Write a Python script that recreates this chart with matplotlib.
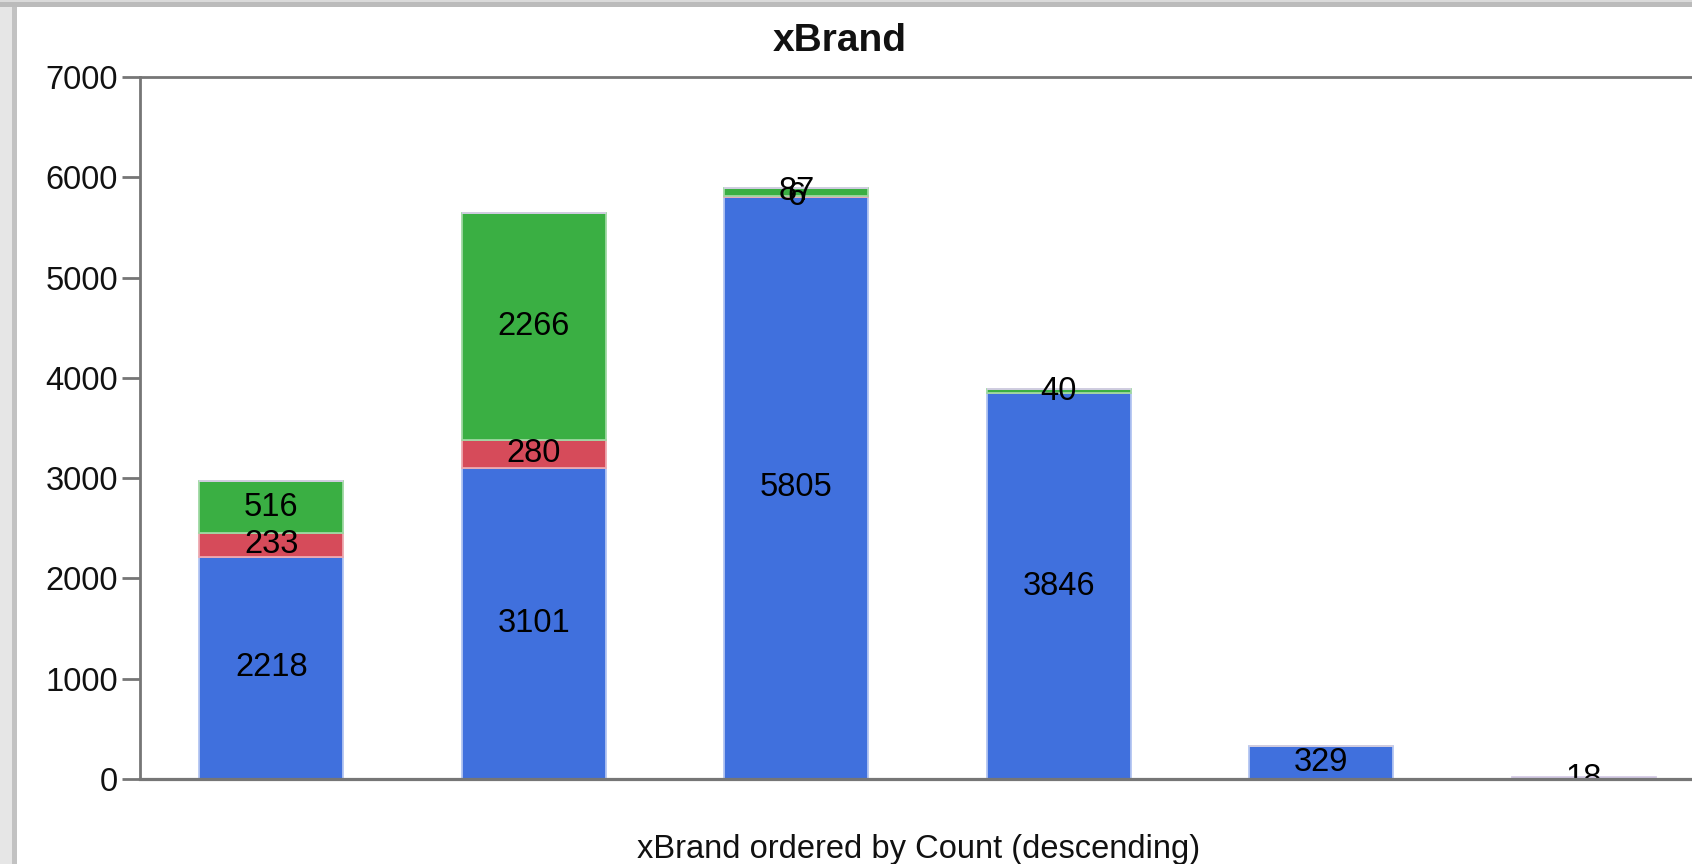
import matplotlib.pyplot as plt
from matplotlib.patches import Rectangle

plt.rcParams['font.family'] = ['Liberation Sans', 'DejaVu Sans']

# data
categories = ['1', '2', '3', '4', '5', '6']
blue_vals = [2218, 3101, 5805, 3846, 329, 0]
red_vals = [233, 280, 6, 0, 0, 0]
green_vals = [516, 2266, 87, 40, 0, 0]
purple_vals = [0, 0, 0, 0, 0, 18]
yticks = [0, 1000, 2000, 3000, 4000, 5000, 6000, 7000]

series = [
    (blue_vals, '#4070DD', '#B3C5F1'),
    (red_vals, '#D64B5A', '#EDA9B0'),
    (green_vals, '#3AAF43', '#9ED8A2'),
    (purple_vals, '#A99AC6', '#D5CCE6'),
]

W, H = 1692, 864
fig = plt.figure(figsize=(W / 100, H / 100), dpi=100)
fig.patch.set_facecolor('white')

# axes: left spine at x=140, top at y=77, zero line at y=779 (pixels)
left, top, bottom = 140, 77, 779
step = 262.5
ax = fig.add_axes([left / W, (H - bottom) / H, 6 * step / W, (bottom - top) / H])

x = list(range(len(categories)))
base = [0] * len(categories)
fs = 23.5
for vals, col, edge in series:
    ax.bar(x, vals, width=0.55, bottom=base, color=col, edgecolor=edge,
           linewidth=1.3, zorder=2)
    for i, v in enumerate(vals):
        if v > 0:
            ax.text(x[i], base[i] + v / 2, str(v), ha='center', va='center',
                    fontsize=fs, color='black', zorder=3, clip_on=True)
    base = [b + v for b, v in zip(base, vals)]

ax.set_xlim(-0.5, 5.5)
ax.set_ylim(0, 7000)
ax.set_yticks(yticks)
ax.set_xticks([])
ax.tick_params(axis='y', length=13, width=2, color='#767676', pad=3,
               labelsize=fs, labelcolor='#111111')
for s in ['left', 'top', 'bottom']:
    ax.spines[s].set_color('#767676')
    ax.spines[s].set_linewidth(2)
    ax.spines[s].set_zorder(4)
ax.spines['right'].set_visible(False)
ax.spines['bottom'].set_linewidth(2.3)

fig.text(840 / W, 1 - 41 / H, 'xBrand', ha='center', va='center',
         fontsize=28, fontweight='bold', color='#111111')
fig.text(919 / W, 1 - 834 / H, 'xBrand ordered by Count (descending)',
         ha='center', va='top', fontsize=fs, color='#111111')

# window frame shading on the left and top edges
fig.patches.append(Rectangle((0, 0), 12 / W, 1, transform=fig.transFigure,
                             facecolor='#E6E6E6', edgecolor='none'))
fig.patches.append(Rectangle((12 / W, 0), 5 / W, 1, transform=fig.transFigure,
                             facecolor='#C2C2C2', edgecolor='none'))
fig.patches.append(Rectangle((0, 1 - 2 / H), 1, 2 / H, transform=fig.transFigure,
                             facecolor='#DADADA', edgecolor='none'))
fig.patches.append(Rectangle((0, 1 - 7 / H), 1, 5 / H, transform=fig.transFigure,
                             facecolor='#BBBBBB', edgecolor='none'))

fig.savefig('out.png', dpi=100)
